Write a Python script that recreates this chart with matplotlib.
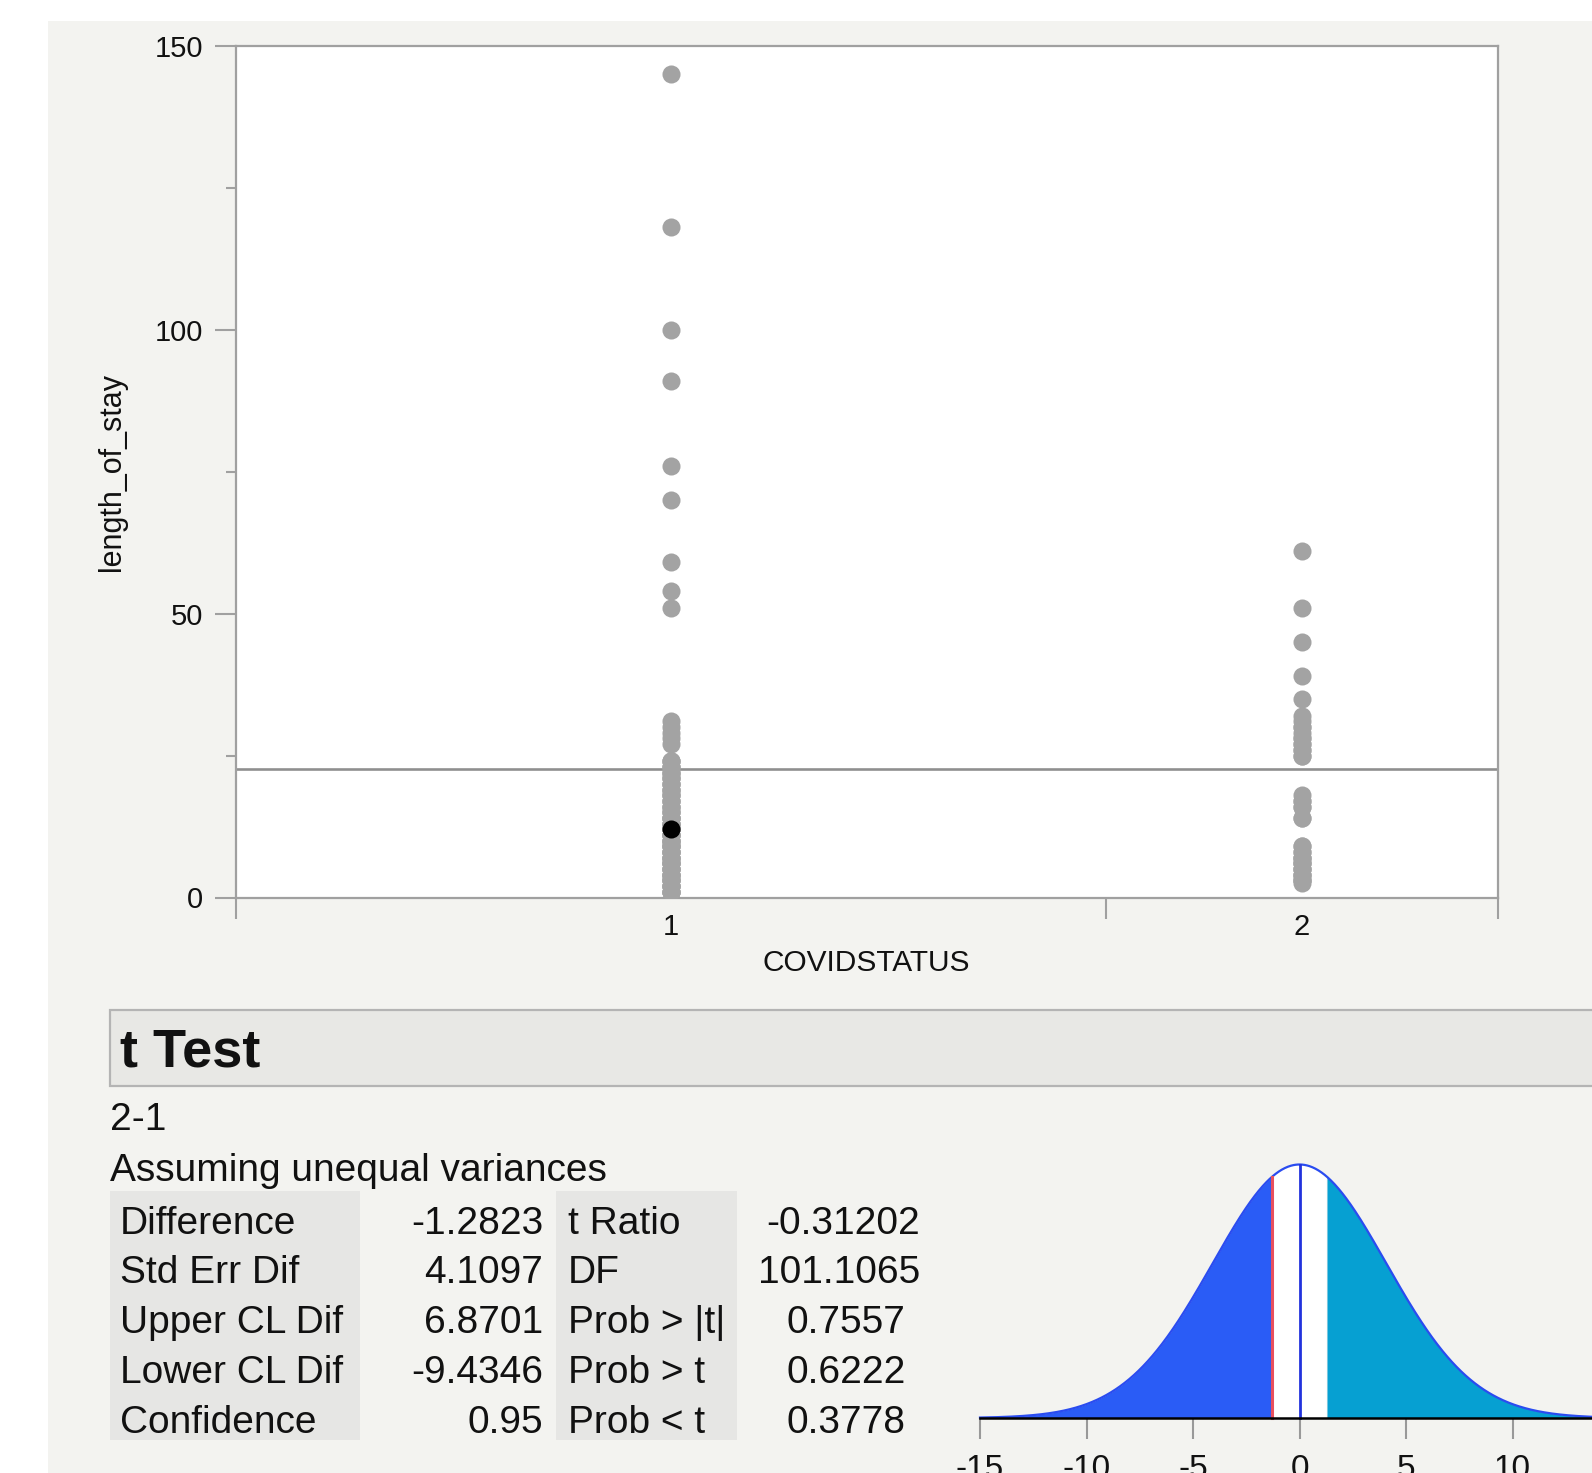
import numpy as np
import matplotlib
matplotlib.use("Agg")
import matplotlib.pyplot as plt
from matplotlib.patches import Rectangle

plt.rcParams['font.family'] = ['Liberation Sans', 'DejaVu Sans']

# ---------------- data ----------------
categories = ["1", "2"]
group1_values = [145, 118, 100, 91, 76, 70, 59, 54, 51,
                 31, 30, 29, 28, 27, 24, 23, 22, 21, 20, 19, 18, 17, 16, 15, 14,
                 13, 12, 11, 10, 9, 8, 7, 6, 5, 4, 3, 2, 1,
                 24, 23, 22, 21, 20, 19, 18, 17, 16, 15, 14, 13, 12, 11, 10, 9,
                 8, 7, 6, 5, 4, 3, 2, 1,
                 24, 23, 22, 21, 20, 19, 18, 17, 16, 15, 14, 13, 12, 11, 10, 9,
                 8, 7, 6, 5, 4, 3, 2, 1,
                 14, 13, 12, 11, 10, 9, 8, 7, 6, 5, 4, 3, 2, 1]
group2_values = [61, 51, 45, 39, 35, 32, 31, 30, 29, 28, 27, 26, 25,
                 18, 17, 16, 14, 9, 8, 7, 6, 5, 4, 3,
                 3, 4, 5, 6, 7, 8, 9, 3, 4, 5, 6, 7, 25, 26, 27, 28, 16, 17, 14, 30, 2.5]
highlight_value = 12          # selected (black) point in group 1
grand_mean = 22.7
y_ticks = [0, 50, 100, 150]
y_minor = [25, 75, 125]

difference = -1.2823
std_err = 4.1097
dof = 101.1065
bell_ticks = [-15, -10, -5, 0, 5, 10, 15]

left_labels = ["Difference", "Std Err Dif", "Upper CL Dif", "Lower CL Dif", "Confidence"]
left_values = ["-1.2823", "4.1097", "6.8701", "-9.4346", "0.95"]
right_labels = ["t Ratio", "DF", "Prob > |t|", "Prob > t", "Prob < t"]
right_values = ["-0.31202", "101.1065", "0.7557", "0.6222", "0.3778"]

# ---------------- figure ----------------
W, H = 1592, 1473
fig = plt.figure(figsize=(W / 100, H / 100), dpi=100, facecolor='white')

bg = fig.add_axes([0, 0, 1, 1], zorder=0)
bg.set_xlim(0, W)
bg.set_ylim(H, 0)
bg.axis('off')
bg.add_patch(Rectangle((48, 21), W, H, fc='#f3f3f0', ec='none'))

# ---------------- scatter panel ----------------
L, R, T, B = 235.5, 1497.6, 45.7, 897.5
ax = fig.add_axes([L / W, 1 - B / H, (R - L) / W, (B - T) / H], zorder=2)
ax.set_facecolor('white')
n1, n2 = len(group1_values), len(group2_values)
split = n1 / (n1 + n2)
centers = [split / 2, split + (1 - split) / 2]

ax.axhline(grand_mean, color='#8f8f8f', lw=1.9, zorder=1)
dot_col = '#a3a3a3'
ax.plot([centers[0]] * n1, group1_values, 'o', ms=13, color=dot_col, mec='none', zorder=3)
ax.plot([centers[1]] * n2, group2_values, 'o', ms=13, color=dot_col, mec='none', zorder=3)
ax.plot([centers[0]], [highlight_value], 'o', ms=13, color='black', mec='none', zorder=4)

for s in ax.spines.values():
    s.set_color('#a0a0a0')
    s.set_linewidth(1.6)
ax.set_yticks(y_ticks)
ax.set_yticks(y_minor, minor=True)
ax.set_xticks(centers)
ax.set_xticklabels(categories)
ax.set_xticks([0, split, 1], minor=True)
ax.set_xlim(0, 1)
ax.set_ylim(0, 150)
ax.tick_params(axis='y', which='major', length=15, width=1.5, color='#a0a0a0',
               labelsize=21, pad=8.5, labelcolor='#111111')
ax.tick_params(axis='y', which='minor', length=7.5, width=1.5, color='#a0a0a0')
ax.tick_params(axis='x', which='major', length=0, labelsize=21, pad=11,
               labelcolor='#111111')
ax.tick_params(axis='x', which='minor', length=15, width=1.5, color='#a0a0a0')
ax.set_xlabel("COVIDSTATUS", fontsize=21.5, labelpad=6, color='#111111')
ax.set_ylabel("length_of_stay", fontsize=22, labelpad=20, color='#111111')

# ---------------- t Test report ----------------
bg.add_patch(Rectangle((109.7, 1010), W, 76, fc='#e8e8e5', ec='#b4b4b4', lw=1.6))
bg.text(119.8, 1066.5, "t Test", fontsize=39, fontweight='bold', va='baseline',
        ha='left', color='#111111')
bg.text(109.7, 1130, "2-1", fontsize=28, va='baseline', ha='left', color='#111111')
bg.text(109.7, 1181, "Assuming unequal variances", fontsize=28, va='baseline',
        ha='left', color='#111111')

bg.add_patch(Rectangle((109.7, 1191), 250.7, 249, fc='#e6e6e4', ec='none'))
bg.add_patch(Rectangle((556.4, 1191), 180.7, 249, fc='#e6e6e4', ec='none'))
right_edges = [919.9, 919.9, 905.6, 905.6, 905.6]
for i in range(5):
    yb = 1233.6 + i * 49.75
    bg.text(119.8, yb, left_labels[i], fontsize=28, va='baseline', ha='left', color='#111111')
    bg.text(543.2, yb, left_values[i], fontsize=28, va='baseline', ha='right', color='#111111')
    bg.text(567.6, yb, right_labels[i], fontsize=28, va='baseline', ha='left', color='#111111')
    bg.text(right_edges[i], yb, right_values[i], fontsize=28, va='baseline', ha='right',
            color='#111111')

# ---------------- t distribution ----------------
bx0, bx_base, by_top = 980.0, 1418.0, 1164.5
unit = 21.3
x_right = (W - (bx0 + 15 * unit)) / unit
axb = fig.add_axes([bx0 / W, 1 - bx_base / H, (W - bx0) / W, (bx_base - by_top) / H], zorder=2)
axb.set_facecolor('none')
xs = np.linspace(-15, x_right, 800)
dens = (1 + (xs / std_err) ** 2 / dof) ** (-(dof + 1) / 2)
c = abs(difference)
axb.fill_between(xs, 0, dens, where=xs <= -c, color='#2a5cf6', lw=0)
axb.fill_between(xs, 0, dens, where=(xs >= -c) & (xs <= c), color='white', lw=0)
axb.fill_between(xs, 0, dens, where=xs >= c, color='#06a0d2', lw=0)
axb.plot(xs, dens, color='#2a4cf0', lw=1.6, clip_on=False)
hd = (1 + (difference / std_err) ** 2 / dof) ** (-(dof + 1) / 2)
axb.plot([difference, difference], [0, hd], color='#e8505e', lw=2.2, clip_on=False)
axb.plot([0, 0], [0, dens.max()], color='#2233dd', lw=2.0, clip_on=False)
for s in ['top', 'left', 'right']:
    axb.spines[s].set_visible(False)
axb.spines['bottom'].set_color('black')
axb.spines['bottom'].set_linewidth(1.8)
axb.set_yticks([])
axb.set_xticks(bell_ticks)
axb.set_xticklabels([str(t) for t in bell_ticks])
axb.set_xlim(-15, x_right)
axb.set_ylim(0, dens.max())
axb.tick_params(axis='x', length=15, width=1.5, color='#999999', labelsize=24,
                pad=11, labelcolor='#111111')

fig.savefig("out.png", dpi=100, facecolor='white')
